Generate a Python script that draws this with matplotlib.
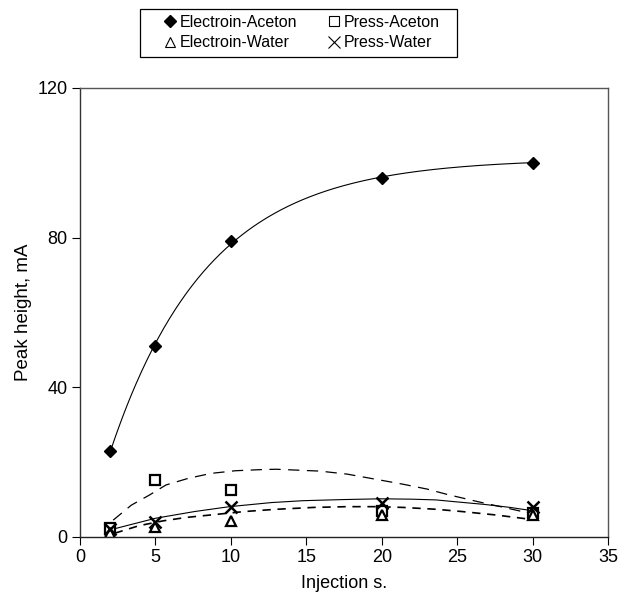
import numpy as np
import matplotlib
matplotlib.use("Agg")
import matplotlib.pyplot as plt
from matplotlib.lines import Line2D
from matplotlib.patches import Rectangle

plt.rcParams['font.family'] = ['Liberation Sans', 'DejaVu Sans']

# measured points
x = [2, 5, 10, 20, 30]
electroin_aceton = [23, 51, 79, 96, 100]
press_aceton = [2.5, 15.2, 12.6, 7, 6.5]
electroin_water = [1, 2.7, 4.4, 6, 6]
press_water = [2, 4.1, 7.9, 9, 8]

# trend lines, values
trend_pa_x = [2.2, 3.4, 4.6, 5.7, 7.2, 8.7, 10.3, 12.0, 13.0, 15.9, 17.7, 19.9,
              21.4, 23.0, 24.3, 26.4, 28.2, 29.3, 30]
trend_pa_y = [4.5, 8.5, 11.2, 13.9, 15.7, 17.0, 17.7, 18.0, 18.1, 17.6, 16.8, 15.2,
              14.1, 12.8, 11.4, 9.4, 7.8, 6.8, 6.0]
trend_pw_x = [2, 5, 7.6, 9.9, 12.7, 14.8, 17.5, 19.9, 22.0, 23.6, 24.9, 26.8, 28.5, 30]
trend_pw_y = [1.9, 5.0, 6.8, 8.1, 9.2, 9.7, 10.0, 10.2, 10.1, 9.9, 9.4, 8.7, 7.9, 7.0]
trend_ew_x = [2.3, 3.9, 5.5, 7.0, 8.7, 10.9, 13.0, 15.5, 17.7, 19.6, 21.4, 23.6, 25.3,
              27.5, 29.3, 30]
trend_ew_y = [1.0, 3.0, 4.3, 5.2, 5.9, 6.8, 7.4, 7.9, 8.1, 8.1, 7.9, 7.4, 6.8,
              5.9, 5.0, 4.6]

fig = plt.figure(figsize=(6.2, 5.94), dpi=100)
ax = fig.add_axes([0.129, 0.096, 0.852, 0.756])

# saturation fit y = A - B*exp(-k x) for Electroin-Aceton
xa = np.array(x, float)
ya = np.array(electroin_aceton, float)
best = None
for k in np.linspace(0.02, 1.0, 2000):
    M = np.column_stack([np.ones_like(xa), -np.exp(-k * xa)])
    coef, res, *_ = np.linalg.lstsq(M, ya, rcond=None)
    r = np.sum((M @ coef - ya) ** 2)
    if best is None or r < best[0]:
        best = (r, k, coef)
_, kb, (A, B) = best
xs = np.linspace(2, 30, 300)
ax.plot(xs, A - B * np.exp(-kb * xs), color='black', lw=0.8, ls='-')

ax.plot(trend_pa_x, trend_pa_y, color='black', lw=0.9, ls=(0, (9, 6)))
ax.plot(trend_ew_x, trend_ew_y, color='black', lw=1.2, ls=(0, (5, 4)))
ax.plot(trend_pw_x, trend_pw_y, color='black', lw=0.8, ls='-')

ax.plot(x, electroin_aceton, ls='none', marker='D', ms=6, color='black')
ax.plot(x, press_aceton, ls='none', marker='s', ms=7, mfc='white', mec='black', mew=1.6)
ax.plot(x, electroin_water, ls='none', marker='^', ms=7, mfc='white', mec='black', mew=1.6)
ax.plot(x, press_water, ls='none', marker='x', ms=8, color='black', mew=1.8)

ax.set_xlim(0, 35)
ax.set_ylim(0, 120)
ax.set_xticks(range(0, 36, 5))
ax.set_yticks([0, 40, 80, 120])
for s in ax.spines.values():
    s.set_linewidth(1.0)
    s.set_color('#555555')
ax.spines['left'].set_color('#333333')
ax.spines['bottom'].set_color('#222222')
ax.tick_params(direction='out', length=6, width=0.8, labelsize=13, colors='black', pad=3)
ax.set_xlabel('Injection s.', fontsize=13, labelpad=6)
ax.set_ylabel('Peak height, mA', fontsize=13.5, labelpad=4)

handles = [
    Line2D([], [], ls='none', marker='D', ms=6, color='black'),
    Line2D([], [], ls='none', marker='^', ms=7, mfc='white', mec='black', mew=0.8),
    Line2D([], [], ls='none', marker='s', ms=7, mfc='white', mec='black', mew=0.8),
    Line2D([], [], ls='none', marker='x', ms=8, color='black', mew=0.8),
]
labels = ['Electroin-Aceton', 'Electroin-Water', 'Press-Aceton', 'Press-Water']
leg = fig.legend(handles, labels, ncol=2, loc='center left',
                 bbox_to_anchor=(0.267, 0.945),
                 frameon=False, fontsize=11.5,
                 handlelength=0.6, handletextpad=0.3, columnspacing=2.0,
                 borderpad=0.0, borderaxespad=0.0, labelspacing=0.35)
fig.patches.append(Rectangle((140 / 620, 1 - 57 / 594), (457 - 140) / 620, (57 - 9) / 594,
                             transform=fig.transFigure, fill=False,
                             edgecolor='black', lw=0.9))

fig.savefig('out.png', dpi=100)
